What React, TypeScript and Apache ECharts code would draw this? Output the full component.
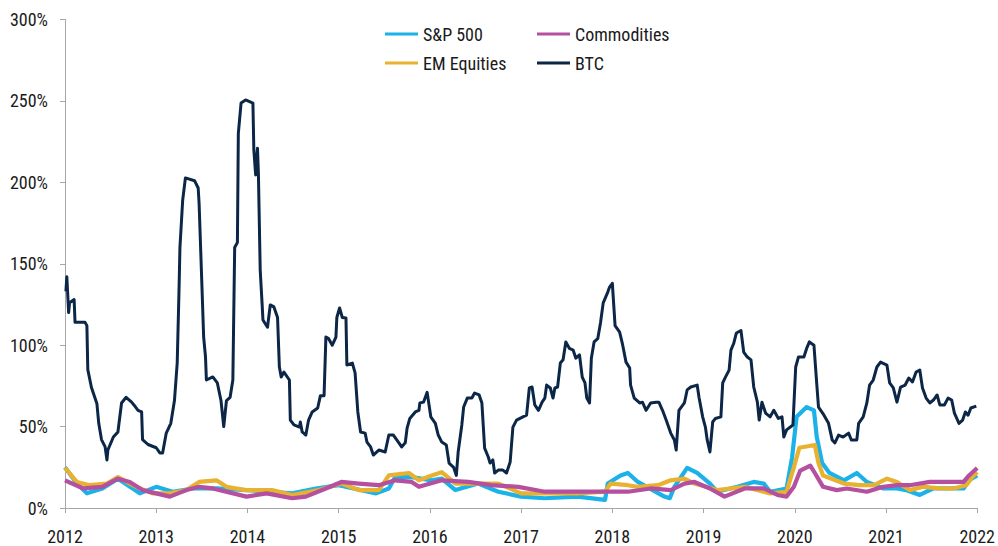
import React, { useEffect, useRef } from "react";
import * as echarts from "echarts";

const yearTicks = [2012, 2013, 2014, 2015, 2016, 2017, 2018, 2019, 2020, 2021, 2022];
const seriesNames = ["S&P 500", "EM Equities", "Commodities", "BTC"];

const btcYears = [
  2012.01, 2012.02, 2012.04, 2012.05, 2012.1, 2012.11, 2012.22, 2012.24, 2012.25, 2012.29, 2012.35, 2012.37,
  2012.4, 2012.44, 2012.46, 2012.47, 2012.53, 2012.58, 2012.62, 2012.67, 2012.73, 2012.76, 2012.8, 2012.84,
  2012.85, 2012.91, 2013.0, 2013.04, 2013.07, 2013.11, 2013.16, 2013.2, 2013.23, 2013.25, 2013.26, 2013.29,
  2013.32, 2013.42, 2013.46, 2013.47, 2013.5, 2013.52, 2013.54, 2013.55, 2013.62, 2013.67, 2013.71, 2013.74,
  2013.77, 2013.81, 2013.84, 2013.86, 2013.89, 2013.9, 2013.93, 2013.98, 2014.06, 2014.07, 2014.09, 2014.11,
  2014.12, 2014.14, 2014.16, 2014.17, 2014.22, 2014.25, 2014.29, 2014.33, 2014.35, 2014.37, 2014.4, 2014.46,
  2014.47, 2014.51, 2014.57, 2014.58, 2014.6, 2014.64, 2014.67, 2014.71, 2014.77, 2014.8, 2014.84, 2014.86,
  2014.89, 2014.93, 2014.97, 2014.98, 2015.01, 2015.04, 2015.08, 2015.09, 2015.15, 2015.18, 2015.21, 2015.24,
  2015.29, 2015.31, 2015.35, 2015.38, 2015.44, 2015.51, 2015.55, 2015.6, 2015.66, 2015.69, 2015.73, 2015.75,
  2015.78, 2015.84, 2015.88, 2015.89, 2015.93, 2015.97, 2016.01, 2016.06, 2016.09, 2016.13, 2016.18, 2016.21,
  2016.26, 2016.29, 2016.31, 2016.35, 2016.37, 2016.41, 2016.46, 2016.49, 2016.54, 2016.57, 2016.6, 2016.64,
  2016.66, 2016.69, 2016.71, 2016.75, 2016.8, 2016.84, 2016.88, 2016.91, 2016.95, 2017.02, 2017.06, 2017.09,
  2017.12, 2017.15, 2017.19, 2017.23, 2017.26, 2017.28, 2017.32, 2017.35, 2017.37, 2017.4, 2017.43, 2017.46,
  2017.49, 2017.53, 2017.57, 2017.6, 2017.64, 2017.67, 2017.7, 2017.72, 2017.75, 2017.77, 2017.8, 2017.84,
  2017.87, 2017.9, 2017.95, 2017.97, 2018.0, 2018.03, 2018.08, 2018.11, 2018.15, 2018.19, 2018.2, 2018.24,
  2018.3, 2018.33, 2018.37, 2018.42, 2018.48, 2018.51, 2018.55, 2018.59, 2018.64, 2018.68, 2018.7, 2018.73,
  2018.79, 2018.82, 2018.86, 2018.93, 2018.95, 2018.99, 2019.02, 2019.04, 2019.07, 2019.1, 2019.13, 2019.19,
  2019.21, 2019.24, 2019.28, 2019.3, 2019.33, 2019.36, 2019.41, 2019.44, 2019.48, 2019.52, 2019.55, 2019.59,
  2019.61, 2019.64, 2019.68, 2019.73, 2019.77, 2019.82, 2019.86, 2019.88, 2019.91, 2019.98, 2020.01, 2020.04,
  2020.1, 2020.13, 2020.16, 2020.21, 2020.24, 2020.26, 2020.32, 2020.37, 2020.41, 2020.44, 2020.48, 2020.53,
  2020.59, 2020.62, 2020.68, 2020.7, 2020.75, 2020.79, 2020.82, 2020.86, 2020.9, 2020.94, 2021.01, 2021.04,
  2021.08, 2021.12, 2021.16, 2021.21, 2021.25, 2021.29, 2021.33, 2021.37, 2021.4, 2021.44, 2021.48, 2021.52,
  2021.56, 2021.59, 2021.64, 2021.68, 2021.72, 2021.75, 2021.8, 2021.84, 2021.87, 2021.9, 2021.93, 2021.99,
];
const btcVol = [
  133, 142, 120, 126, 128, 114, 114, 112, 85, 74, 64, 52,
  42, 37.5, 29.5, 35.6, 43.6, 46.7, 64.5, 68, 65, 63, 60, 59,
  42, 39, 37, 33.8, 33.8, 46, 52, 66, 89, 134, 160, 189,
  202.7, 201, 196.5, 187, 138, 105, 93, 78.6, 80.5, 76.8, 66, 50,
  66, 68, 78.6, 160, 163, 230, 248.7, 250.6, 248.7, 220, 204.5, 221,
  205.7, 146, 126, 115.5, 111, 124.7, 123.5, 117, 86.6, 80.4, 83.5, 78.6,
  54, 51, 49.7, 52.8, 46.7, 44.8, 54, 59, 61.4, 69, 69, 105,
  104, 100, 105, 117, 122.8, 117, 116.7, 87.8, 89, 83, 59, 46.7,
  46, 40.5, 37.5, 32.5, 35.6, 34.4, 44.8, 44.8, 40, 37.5, 40, 49,
  55, 59, 60, 64.5, 65, 71, 56, 52, 45, 40.5, 38.7, 27.6,
  25, 20, 34.4, 51, 62, 67.5, 67.5, 70.6, 69.4, 64.5, 36.8, 31.3,
  27.6, 29.5, 21.5, 23.3, 23.3, 21.5, 28.3, 49.7, 54, 56, 57, 73.7,
  74.3, 63.3, 60, 65, 67.5, 75.5, 73.7, 67.5, 73.7, 74.3, 89, 91,
  102, 98, 97, 92, 94, 80.4, 76.8, 67.5, 64.5, 92, 102, 104,
  113.6, 126, 132.6, 135.7, 138, 112, 108, 101, 89.6, 86, 75.5, 67.5,
  64.5, 65, 60, 64.5, 65, 65, 60, 54, 46, 41.8, 35.6, 60,
  64.5, 72.5, 74.3, 75.5, 68, 56, 49.7, 41.8, 34.4, 52.8, 55, 56,
  76.8, 80.4, 84.7, 97, 101, 107.5, 109, 95.8, 92.7, 91, 74.3, 65,
  54, 65, 58.3, 56, 60, 55, 56, 43.6, 48, 51, 86.6, 92.7,
  92.7, 98, 102, 100, 76.8, 62, 57, 52, 41.8, 40, 44.8, 43.6,
  46, 41.8, 41.8, 52, 56, 64.5, 75.5, 78.6, 86.6, 89.6, 87.8, 76.8,
  73.7, 65, 74.3, 75.5, 79.8, 77.4, 83.5, 84.7, 73.7, 67.5, 64.5, 66.3,
  69.4, 63.3, 63.3, 67.5, 66.3, 58.3, 52, 54, 59, 57, 61.4, 62.6,
];

const spxYears = [
  2012.0, 2012.13, 2012.24, 2012.41, 2012.58, 2012.82, 2013.0, 2013.18, 2013.4, 2013.66, 2013.99, 2014.49,
  2014.75, 2015.0, 2015.41, 2015.55, 2015.62, 2015.8, 2016.02, 2016.13, 2016.28, 2016.53, 2016.75, 2017.0,
  2017.26, 2017.62, 2017.92, 2017.95, 2018.09, 2018.17, 2018.28, 2018.57, 2018.63, 2018.68, 2018.82, 2018.93,
  2019.07, 2019.15, 2019.37, 2019.55, 2019.66, 2019.73, 2019.91, 2019.97, 2020.02, 2020.13, 2020.21, 2020.24,
  2020.3, 2020.38, 2020.54, 2020.68, 2020.79, 2020.97, 2021.12, 2021.22, 2021.37, 2021.52, 2021.85, 2021.91,
  2022.0,
];
const spxVol = [
  25, 15, 9, 12, 18, 9, 13, 10, 12, 12, 11, 9,
  12, 14, 9, 12, 19, 19, 17, 18, 11, 15, 10, 7,
  6, 7, 5, 15, 20, 21.5, 16, 7, 6, 13, 24.6, 21.5,
  15, 10, 13, 16, 15, 10, 12, 31, 56, 62, 60, 44,
  27.6, 21.5, 17, 21.5, 16, 12, 12, 11, 8, 12, 12, 17,
  20,
];

const emYears = [
  2012.0, 2012.13, 2012.27, 2012.46, 2012.58, 2012.78, 2012.96, 2013.15, 2013.33, 2013.47, 2013.66, 2013.77,
  2013.98, 2014.27, 2014.49, 2014.78, 2015.03, 2015.22, 2015.44, 2015.55, 2015.77, 2015.88, 2016.02, 2016.13,
  2016.28, 2016.53, 2016.75, 2017.0, 2017.26, 2017.62, 2017.92, 2017.98, 2018.17, 2018.28, 2018.5, 2018.64,
  2018.79, 2018.9, 2019.15, 2019.45, 2019.73, 2019.91, 2019.99, 2020.05, 2020.22, 2020.26, 2020.31, 2020.54,
  2020.71, 2020.87, 2021.01, 2021.12, 2021.26, 2021.41, 2021.59, 2021.74, 2021.88, 2021.96, 2022.0,
];
const emVol = [
  24.6, 16, 14, 15, 19, 13, 9, 9, 11, 16, 17, 13,
  11, 11, 8, 11, 15, 11, 11, 20, 21.5, 17, 20, 22,
  15, 15, 15, 9, 9, 9, 10, 15, 14, 13, 14, 17,
  18, 15, 11, 13, 9, 10, 25, 37, 38.7, 27.6, 20, 15,
  14, 14, 18, 16, 11, 13, 12, 12, 14, 20, 22,
];

const comYears = [
  2012.0, 2012.2, 2012.41, 2012.58, 2012.71, 2012.85, 2013.15, 2013.33, 2013.47, 2013.62, 2013.99, 2014.21,
  2014.49, 2014.64, 2014.86, 2015.03, 2015.22, 2015.44, 2015.62, 2015.8, 2015.88, 2016.13, 2016.42, 2016.67,
  2016.97, 2017.26, 2017.48, 2017.98, 2018.17, 2018.42, 2018.64, 2018.79, 2018.9, 2019.07, 2019.23, 2019.45,
  2019.66, 2019.81, 2019.91, 2019.99, 2020.06, 2020.17, 2020.22, 2020.31, 2020.46, 2020.57, 2020.79, 2020.97,
  2021.12, 2021.26, 2021.48, 2021.69, 2021.85, 2021.91, 2022.0,
];
const comVol = [
  17, 12, 13, 18, 16, 11, 7, 11, 13, 12, 7, 9,
  6, 7, 12, 16, 15, 14, 17, 16, 13, 17, 16, 14,
  13, 10, 10, 10, 10, 12, 11, 15, 16, 12, 7, 12,
  12, 8, 7, 13, 23, 26, 21.5, 13, 11, 12, 10, 13,
  14, 14, 16, 16, 16, 20, 24.6,
];

const colors = ["#1AB2E8", "#E8B12F", "#B4509F", "#0B2647"];
const FONT = "'Liberation Sans Narrow', 'Roboto Condensed', 'Arial Narrow', Roboto, sans-serif";

const zip = (xs: number[], ys: number[]) => xs.map((x, i) => [x, ys[i]]);

export default function App() {
  const ref = useRef<HTMLDivElement>(null);
  useEffect(() => {
    document.body.style.margin = "0";
    if (!ref.current) return;
    const chart = echarts.init(ref.current, null, { renderer: "svg" });
    const data = [zip(spxYears, spxVol), zip(emYears, emVol), zip(comYears, comVol), zip(btcYears, btcVol)];
    const widths = [4.2, 4.2, 4.2, 3];
    const legendBase = {
      orient: "vertical" as const,
      icon: "rect",
      itemWidth: 33,
      itemHeight: 3,
      itemGap: 11,
      textStyle: { fontFamily: FONT, fontSize: 18, color: "#1a1a1a", lineHeight: 18 },
    };
    chart.setOption({
      animation: false,
      color: colors,
      legend: [
        { ...legendBase, left: 380, top: 20, data: [seriesNames[0], seriesNames[1]] },
        { ...legendBase, left: 532, top: 20, data: [seriesNames[2], seriesNames[3]] },
      ],
      grid: { left: 65, right: 17, top: 19.5, bottom: 38, containLabel: false },
      xAxis: {
        type: "value",
        min: yearTicks[0],
        max: yearTicks[yearTicks.length - 1],
        interval: 1,
        splitLine: { show: false },
        axisLine: { show: true, lineStyle: { color: "#a6a6a6", width: 1 } },
        axisTick: { show: true, length: 5, lineStyle: { color: "#a6a6a6" } },
        axisLabel: {
          fontFamily: FONT,
          fontSize: 18,
          color: "#1a1a1a",
          margin: 19,
          formatter: (v: number) => String(v),
        },
      },
      yAxis: {
        type: "value",
        min: 0,
        max: 300,
        interval: 50,
        splitLine: { show: false },
        axisLine: { show: true, lineStyle: { color: "#a6a6a6", width: 1 } },
        axisTick: { show: true, length: 5, lineStyle: { color: "#a6a6a6" } },
        axisLabel: {
          fontFamily: FONT,
          fontSize: 18,
          color: "#1a1a1a",
          margin: 17,
          formatter: (v: number) => v + "%",
        },
      },
      series: seriesNames.map((name, i) => ({
        name,
        type: "line",
        data: data[i],
        showSymbol: false,
        symbol: "none",
        lineStyle: { width: widths[i], color: colors[i], join: "round" },
        itemStyle: { color: colors[i] },
        z: 2 + i,
      })),
    });
    return () => chart.dispose();
  }, []);
  return <div ref={ref} style={{ width: 998, height: 546 }} />;
}
